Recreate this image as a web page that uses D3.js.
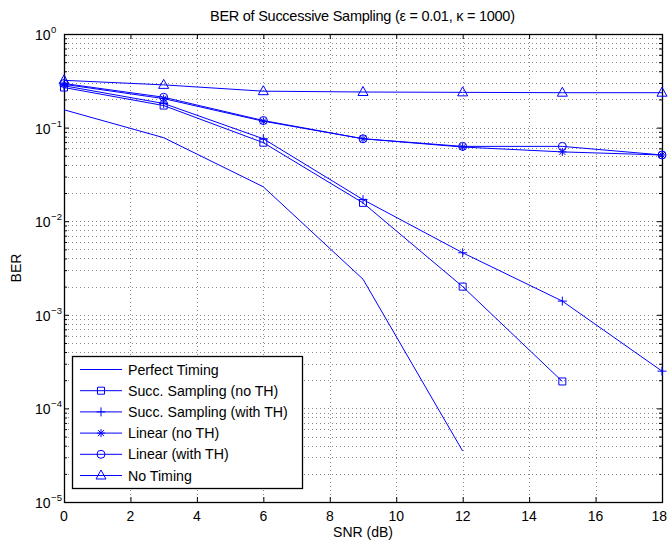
<!DOCTYPE html>
<html>
<head>
<meta charset="utf-8">
<script src="https://cdn.jsdelivr.net/npm/d3@7"></script>
<style>
  html, body { margin: 0; padding: 0; background: #fff; }
  svg { display: block; font-family: "Liberation Sans", Arial, Helvetica, sans-serif; }
</style>
</head>
<body>
<svg id="chart" width="668" height="541"></svg>
<script>
// SNR points (dB) and BER curves
const snr = [0, 3, 6, 9, 12, 15, 18];
const perfectTiming   = [0.155, 0.078, 0.0233, 0.0024, 3.5e-5];
const succNoTH        = [0.268, 0.172, 0.069, 0.0157, 0.0020, 1.94e-4];
const succWithTH      = [0.280, 0.181, 0.076, 0.0170, 0.0046, 0.0014, 2.5e-4];
const linearNoTH      = [0.290, 0.204, 0.117, 0.076, 0.062, 0.055, 0.051];
const linearWithTH    = [0.296, 0.211, 0.119, 0.076, 0.063, 0.063, 0.051];
const noTiming        = [0.320, 0.286, 0.245, 0.240, 0.238, 0.236, 0.236];

const seriesNames = ["Perfect Timing", "Succ. Sampling (no TH)", "Succ. Sampling (with TH)",
                     "Linear (no TH)", "Linear (with TH)", "No Timing"];
const seriesValues = [perfectTiming, succNoTH, succWithTH, linearNoTH, linearWithTH, noTiming];
const seriesMarkers = ["none", "square", "plus", "asterisk", "circle", "triangle"];

const xTicks = [0, 2, 4, 6, 8, 10, 12, 14, 16, 18];
const yDecades = [-5, -4, -3, -2, -1, 0];

const title = "BER of Successive Sampling (\u03B5 = 0.01, \u03BA = 1000)";
const xLabel = "SNR (dB)";
const yLabel = "BER";

const blue = "#0000ff";
const svg = d3.select("#chart");
const W = 668;
const L = 64, R = 662, T = 34, B = 502;

const x = d3.scaleLinear().domain([0, 18]).range([L, R]);
const y = d3.scaleLog().domain([1e-5, 1]).range([B, T]);

// Minor log values within each decade
const minorVals = [];
for (let e = -5; e < 0; e++) for (let m = 2; m <= 9; m++) minorVals.push(m * Math.pow(10, e));
const majorVals = yDecades.map(e => Math.pow(10, e));

// Dotted grid
const grid = svg.append("g").attr("stroke", "#8a8a8a").attr("stroke-width", 1)
  .attr("stroke-dasharray", "1,3").attr("shape-rendering", "crispEdges");
grid.selectAll("line.gx").data(xTicks.filter(t => t > 0 && t < 18)).join("line")
  .attr("x1", d => Math.round(x(d)) + 0.5).attr("x2", d => Math.round(x(d)) + 0.5)
  .attr("y1", T).attr("y2", B);
grid.selectAll("line.gy").data(minorVals.concat(majorVals.slice(1, -1))).join("line")
  .attr("y1", d => Math.round(y(d)) + 0.5).attr("y2", d => Math.round(y(d)) + 0.5)
  .attr("x1", L).attr("x2", R);

// Axes with inward ticks on all four sides
const axisBottom = d3.axisBottom(x).tickValues(xTicks).tickSizeInner(-5).tickSizeOuter(0).tickFormat("");
const axisTop = d3.axisTop(x).tickValues(xTicks).tickSizeInner(-5).tickSizeOuter(0).tickFormat("");
const axisLeftMajor = d3.axisLeft(y).tickValues(majorVals).tickSizeInner(-5).tickSizeOuter(0).tickFormat("");
const axisLeftMinor = d3.axisLeft(y).tickValues(minorVals).tickSizeInner(-3).tickSizeOuter(0).tickFormat("");
const axisRightMajor = d3.axisRight(y).tickValues(majorVals).tickSizeInner(-5).tickSizeOuter(0).tickFormat("");
const axisRightMinor = d3.axisRight(y).tickValues(minorVals).tickSizeInner(-3).tickSizeOuter(0).tickFormat("");
svg.append("g").attr("transform", `translate(0,${B})`).call(axisBottom);
svg.append("g").attr("transform", `translate(0,${T})`).call(axisTop);
svg.append("g").attr("transform", `translate(${L},0)`).call(axisLeftMajor);
svg.append("g").attr("transform", `translate(${L},0)`).call(axisLeftMinor);
svg.append("g").attr("transform", `translate(${R},0)`).call(axisRightMajor);
svg.append("g").attr("transform", `translate(${R},0)`).call(axisRightMinor);
svg.selectAll(".domain").attr("stroke", "#000");
svg.selectAll(".tick line").attr("stroke", "#000");

// Plot frame
svg.append("rect").attr("x", L + 0.5).attr("y", T + 0.5).attr("width", R - L).attr("height", B - T)
  .attr("fill", "none").attr("stroke", "#000").attr("stroke-width", 1.3);

// Tick labels (the last one is kept inside the page edge)
svg.append("g").selectAll("text").data(xTicks).join("text")
  .attr("x", d => x(d) + 8 > W - 1 ? W - 1 : x(d))
  .attr("y", B + 19)
  .attr("text-anchor", d => x(d) + 8 > W - 1 ? "end" : "middle")
  .attr("font-size", 14).text(d => d);
const yl = svg.append("g").selectAll("text").data(yDecades).join("text")
  .attr("x", 35).attr("y", d => y(Math.pow(10, d)) + 6)
  .attr("font-size", 14);
yl.append("tspan").text("10");
yl.append("tspan").attr("dy", -7).attr("dx", 0.5).attr("font-size", 9.5)
  .text(d => d === 0 ? "0" : "\u2212" + (-d));

// Title and axis labels
svg.append("text").attr("x", (L + R) / 2 - 0.5).attr("y", 21).attr("text-anchor", "middle")
  .attr("font-size", 14.5).attr("textLength", 305).attr("lengthAdjust", "spacing").text(title);
svg.append("text").attr("x", (L + R) / 2).attr("y", 537).attr("text-anchor", "middle")
  .attr("font-size", 14).text(xLabel);
svg.append("text").attr("transform", `translate(21,${(T + B) / 2}) rotate(-90)`).attr("text-anchor", "middle")
  .attr("font-size", 14).text(yLabel);

// Marker shapes (stroked, unfilled)
function markerPath(kind) {
  switch (kind) {
    case "square": return "M-3.5,-3.5H3.5V3.5H-3.5Z";
    case "plus": return "M-4.5,0H4.5M0,-4.5V4.5";
    case "asterisk": return "M-4,0H4M0,-4V4M-3,-3L3,3M-3,3L3,-3";
    case "circle": return "M4,0A4,4 0 1,1 -4,0A4,4 0 1,1 4,0Z";
    case "triangle": return "M0,-5.5L5,3.5H-5Z";
    default: return null;
  }
}

const line = d3.line().x((d, i) => x(snr[i])).y(d => y(d));
const plotG = svg.append("g");
seriesValues.forEach((vals, k) => {
  plotG.append("path").datum(vals).attr("d", line).attr("fill", "none")
    .attr("stroke", blue).attr("stroke-width", 1);
  const mp = markerPath(seriesMarkers[k]);
  if (mp) {
    plotG.selectAll(null).data(vals).join("path")
      .attr("transform", (d, i) => `translate(${x(snr[i])},${y(d)})`)
      .attr("d", mp).attr("fill", "none").attr("stroke", blue).attr("stroke-width", 1);
  }
});

// Legend
const lgX = 72, lgY = 356, lgW = 230, lgH = 132;
const lg = svg.append("g");
lg.append("rect").attr("x", lgX + 0.5).attr("y", lgY + 0.5).attr("width", lgW).attr("height", lgH)
  .attr("fill", "#fff").attr("stroke", "#000").attr("stroke-width", 1.3);
seriesNames.forEach((name, k) => {
  const yy = lgY + 13.5 + k * 21.2;
  lg.append("line").attr("x1", lgX + 8).attr("x2", lgX + 50).attr("y1", yy).attr("y2", yy)
    .attr("stroke", blue).attr("stroke-width", 1);
  const mp = markerPath(seriesMarkers[k]);
  if (mp) lg.append("path").attr("transform", `translate(${lgX + 29},${yy})`).attr("d", mp)
    .attr("fill", "none").attr("stroke", blue).attr("stroke-width", 1);
  lg.append("text").attr("x", lgX + 56).attr("y", yy + 5).attr("font-size", 14.2).text(name);
});
</script>
</body>
</html>
